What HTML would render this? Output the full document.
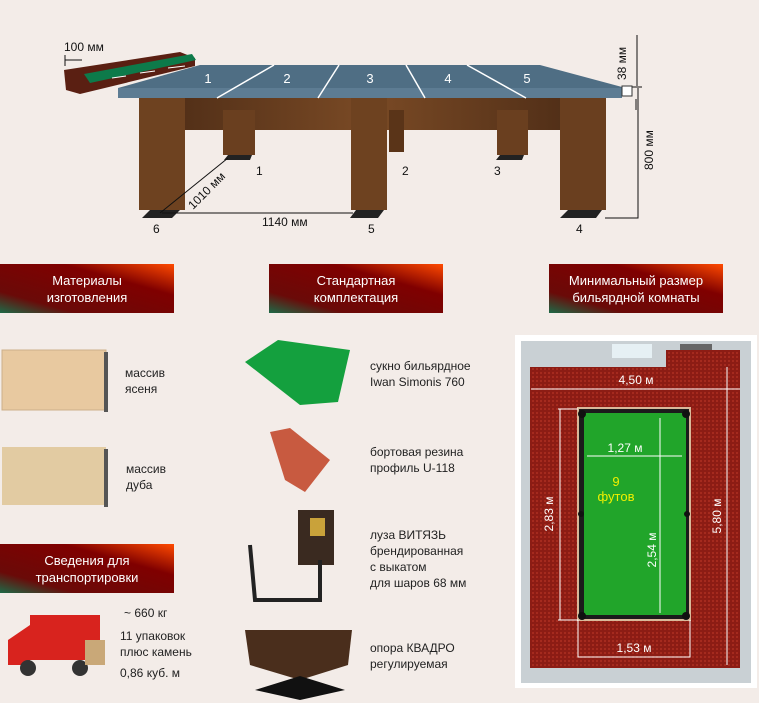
<!DOCTYPE html>
<html><head><meta charset="utf-8"><style>
body{margin:0;width:759px;height:703px;background:#f3ece8;overflow:hidden;position:relative;font-family:"Liberation Sans",sans-serif;}
.b{position:absolute;width:174px;height:49px;background:linear-gradient(to top right,#1d6a47 0%,#6a0a08 22%,#800000 68%,#ff4a00 100%);color:#fff;font-size:13px;line-height:17px;text-align:center;display:flex;align-items:center;justify-content:center}
.t{position:absolute;font-size:12px;line-height:16px;color:#222}
svg{position:absolute;left:0;top:0}
</style></head><body>
<svg width="759" height="703" viewBox="0 0 759 703" font-family="Liberation Sans, sans-serif">
<defs>
<linearGradient id="w" x1="0" x2="1"><stop offset="0" stop-color="#4a2a15"/><stop offset=".5" stop-color="#7a4a25"/><stop offset="1" stop-color="#4a2a15"/></linearGradient>
<pattern id="c" width="4" height="4" patternUnits="userSpaceOnUse"><rect width="4" height="4" fill="#8c1c14"/><rect width="2" height="2" fill="#a52a1e"/></pattern>
</defs>
<!-- rail piece -->
<path d="M64 70 L180 52 L195 58 L195 66 L80 94 L66 90Z" fill="#5a1f12"/>
<path d="M84 74 L192 54 L196 60 L90 83Z" fill="#0d7a4a"/>
<g stroke="#fff" stroke-width="1"><path d="M112 78 L126 76 M140 73 L155 71 M168 68 L185 66"/></g>
<!-- table -->
<rect x="140" y="98" width="460" height="32" fill="url(#w)"/>
<rect x="223" y="110" width="32" height="45" fill="#6a3f1f"/>
<rect x="389" y="110" width="15" height="42" fill="#5a3418"/>
<rect x="497" y="110" width="31" height="45" fill="#6a3f1f"/>
<rect x="139" y="98" width="46" height="112" fill="#6e4220"/>
<rect x="351" y="98" width="36" height="112" fill="#6e4220"/>
<rect x="560" y="98" width="46" height="112" fill="#6a3f1f"/>
<path d="M118 88 L200 65 L540 65 L622 87 L622 98 L118 98Z" fill="#4f6e84"/>
<path d="M118 88 L622 88 L622 98 L118 98Z" fill="#5d7c93"/>
<g stroke="#fff" stroke-width="1.5" fill="none"><path d="M217 98 L274 65"/><path d="M318 98 L339 65"/><path d="M425 98 L406 65"/><path d="M526 98 L467 65"/></g>
<g fill="#fff" font-size="13" text-anchor="middle"><text x="208" y="83">1</text><text x="287" y="83">2</text><text x="370" y="83">3</text><text x="448" y="83">4</text><text x="527" y="83">5</text></g>
<g fill="#222"><path d="M150 210 L180 210 L172 218 L142 218Z"/><path d="M356 210 L384 210 L378 218 L350 218Z"/><path d="M568 210 L602 210 L596 218 L560 218Z"/><path d="M228 155 L252 155 L250 160 L224 160Z"/><path d="M500 155 L524 155 L522 160 L496 160Z"/></g>
<g stroke="#111" fill="none" stroke-width="1"><path d="M160 213 L228 158"/><path d="M162 213 L353 213"/><path d="M638 88 L638 218 L605 218"/><path d="M637 35 L637 86 M630 87 L642 87 M636 99 L636 110"/><path d="M65 55 L65 66 M65 60 L82 60"/></g>
<rect x="622" y="86" width="10" height="10" fill="#fff" stroke="#333"/>
<g font-size="12" fill="#111"><text x="64" y="51">100 мм</text><text x="262" y="226">1140 мм</text>
<text x="256" y="175">1</text><text x="402" y="175">2</text><text x="494" y="175">3</text><text x="153" y="233">6</text><text x="368" y="233">5</text><text x="576" y="233">4</text>
<text transform="translate(193,210) rotate(-45)">1010 мм</text>
<text transform="translate(626,80) rotate(-90)">38 мм</text><text transform="translate(653,170) rotate(-90)">800 мм</text></g>
<!-- wood samples -->
<rect x="2" y="350" width="104" height="60" fill="#e8c9a0" stroke="#ccb08a"/><rect x="104" y="352" width="4" height="60" fill="#555"/>
<rect x="2" y="447" width="104" height="58" fill="#e2cba2"/><rect x="104" y="449" width="4" height="58" fill="#555"/>
<!-- items -->
<path d="M245 362 L278 340 L350 350 L338 402 L300 405 Z" fill="#14a03e"/>
<path d="M270 432 L290 428 L330 460 L305 492 L285 480 Z" fill="#c85a40"/>
<rect x="298" y="510" width="36" height="55" fill="#3a2a20"/><rect x="310" y="518" width="15" height="18" fill="#c9a23a"/>
<path d="M250 545 L255 600 L320 600 L320 560" stroke="#222" stroke-width="4" fill="none"/>
<path d="M245 630 L352 630 L348 665 L300 680 L250 665Z" fill="#4a2e1c"/><path d="M255 690 L300 676 L345 690 L300 700Z" fill="#111"/>
<!-- truck -->
<rect x="30" y="615" width="70" height="45" fill="#d8231e"/><path d="M8 640 L30 625 L30 665 L8 665Z" fill="#d8231e"/><circle cx="28" cy="668" r="8" fill="#333"/><circle cx="80" cy="668" r="8" fill="#333"/><rect x="85" y="640" width="20" height="25" fill="#c9a878"/>
<!-- room -->
<rect x="515" y="335" width="242" height="353" fill="#fff"/>
<rect x="521" y="341" width="230" height="342" fill="#c9d0d4"/>
<rect x="530" y="350" width="210" height="318" fill="url(#c)"/>
<rect x="530" y="341" width="136" height="26" fill="#c9d0d4"/><rect x="612" y="344" width="40" height="14" fill="#e6f0f4"/><rect x="680" y="344" width="32" height="6" fill="#666"/>
<rect x="578" y="408" width="112" height="212" fill="#1b1b1b" stroke="#d9b99a" stroke-width="2"/>
<rect x="584" y="413" width="102" height="202" fill="#21a52a"/>
<g fill="#111"><circle cx="582" cy="414" r="4"/><circle cx="686" cy="414" r="4"/><circle cx="582" cy="616" r="4"/><circle cx="686" cy="616" r="4"/><circle cx="581" cy="514" r="3"/><circle cx="687" cy="514" r="3"/></g>
<g stroke="#fff" stroke-width="1" fill="none"><path d="M531 389 L740 389"/><path d="M727 367 L727 665"/><path d="M560 409 L560 620 M558 409 L578 409 M558 620 L578 620"/><path d="M578 620 L578 657 L690 657 L690 620"/><path d="M587 456 L682 456"/><path d="M660 418 L660 613"/></g>
<g fill="#fff" font-size="12" text-anchor="middle"><text x="636" y="384">4,50 м</text><text x="625" y="452">1,27 м</text><text x="634" y="652">1,53 м</text>
<text transform="translate(553,514) rotate(-90)">2,83 м</text><text transform="translate(721,516) rotate(-90)">5,80 м</text><text transform="translate(656,550) rotate(-90)">2,54 м</text></g>
<g fill="#f0f000" font-size="13" text-anchor="middle"><text x="616" y="486">9</text><text x="616" y="501">футов</text></g>
</svg>
<div class="b" style="left:0;top:264px">Материалы<br>изготовления</div>
<div class="b" style="left:269px;top:264px">Стандартная<br>комплектация</div>
<div class="b" style="left:549px;top:264px">Минимальный размер<br>бильярдной комнаты</div>
<div class="b" style="left:0;top:544px">Сведения для<br>транспортировки</div>
<div class="t" style="left:125px;top:365px">массив<br>ясеня</div>
<div class="t" style="left:126px;top:461px">массив<br>дуба</div>
<div class="t" style="left:370px;top:358px">сукно бильярдное<br>Iwan Simonis 760</div>
<div class="t" style="left:370px;top:444px">бортовая резина<br>профиль U-118</div>
<div class="t" style="left:370px;top:527px">луза ВИТЯЗЬ<br>брендированная<br>с выкатом<br>для шаров 68 мм</div>
<div class="t" style="left:370px;top:640px">опора КВАДРО<br>регулируемая</div>
<div class="t" style="left:124px;top:605px">~ 660 кг</div>
<div class="t" style="left:120px;top:628px">11 упаковок<br>плюс камень</div>
<div class="t" style="left:120px;top:665px">0,86 куб. м</div>
</body></html>
